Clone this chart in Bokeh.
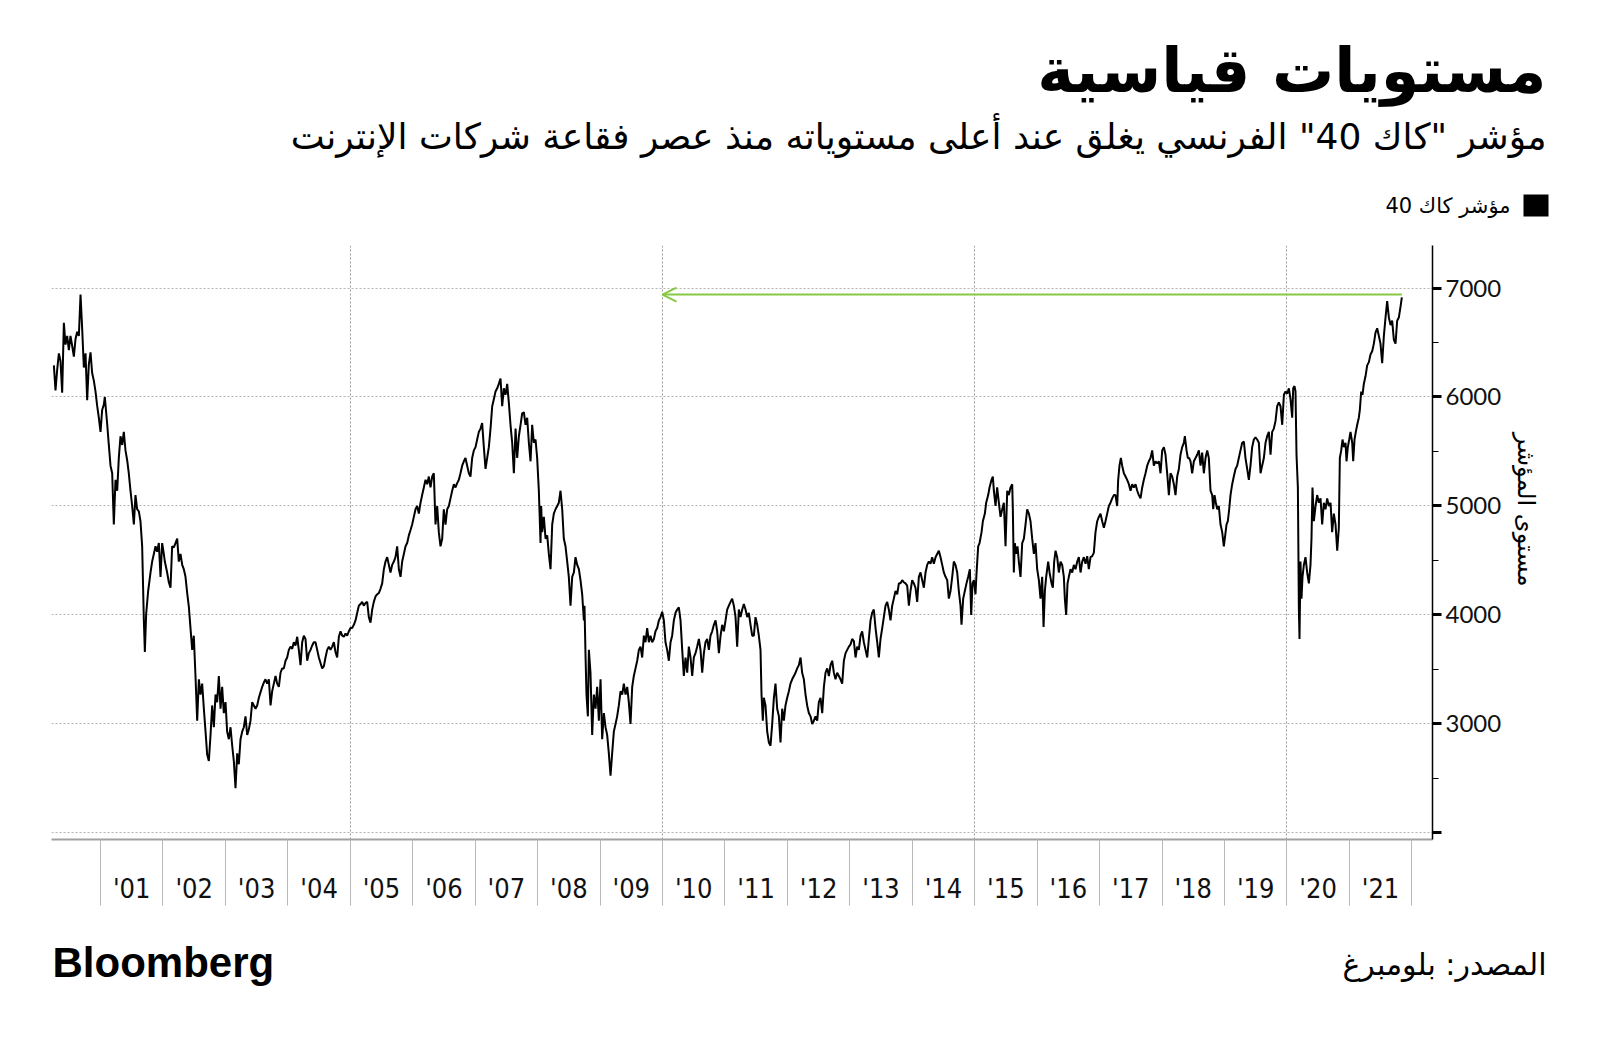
import math
from bokeh.plotting import figure
from bokeh.layouts import column, row
from bokeh.models import Range1d, FixedTicker, Label, Arrow, OpenHead, BoxAnnotation
from bokeh.embed import file_html
from bokeh.resources import INLINE

# ---------------- data ----------------
# decimal years / CAC 40 index level
dates_2000 = [
    2000.253, 2000.279, 2000.306, 2000.333, 2000.359, 2000.386, 2000.413, 2000.439, 2000.466, 2000.493,
    2000.519, 2000.546, 2000.573, 2000.599, 2000.626, 2000.653, 2000.680, 2000.706, 2000.733, 2000.760,
    2000.786, 2000.813, 2000.840, 2000.866, 2000.893, 2000.920, 2000.946, 2000.973, 2001.000, 2001.026,
    2001.053, 2001.069, 2001.107, 2001.133, 2001.160, 2001.187, 2001.213, 2001.240, 2001.267, 2001.293,
    2001.320, 2001.347, 2001.373, 2001.400, 2001.427, 2001.453, 2001.480, 2001.507, 2001.534, 2001.560,
    2001.587, 2001.614, 2001.640, 2001.667, 2001.694, 2001.710, 2001.731, 2001.763, 2001.801, 2001.827,
    2001.854, 2001.881, 2001.907, 2001.934, 2001.961, 2001.987, 2002.014, 2002.030, 2002.067, 2002.094,
    2002.121, 2002.147, 2002.174, 2002.201, 2002.228, 2002.254, 2002.281, 2002.308, 2002.334, 2002.361,
    2002.388, 2002.414, 2002.441, 2002.468, 2002.494, 2002.521, 2002.548, 2002.575, 2002.601,
]
cac_2000 = [
    6290, 6060, 6250, 6400, 6330, 6040, 6680, 6480, 6560, 6430,
    6560, 6470, 6370, 6530, 6600, 6560, 6940, 6630, 6270, 6400,
    5970, 6300, 6410, 6220, 6150, 6050, 5920, 5810, 5680, 5880,
    5930, 6000, 5750, 5560, 5370, 5300, 4830, 5240, 5140, 5440,
    5640, 5560, 5680, 5510, 5420, 5300, 5140, 5000, 4830, 5100,
    4970, 4950, 4860, 4630, 3950, 3660, 4010, 4220, 4390, 4490,
    4560, 4630, 4580, 4660, 4350, 4660, 4560, 4490, 4390, 4300,
    4250, 4630, 4620, 4660, 4700, 4490, 4560, 4460, 4420, 4350,
    4200, 4080, 3880, 3680, 3810, 3440, 3030, 3410, 3270,
]

dates_2002 = [
    2002.628, 2002.655, 2002.682, 2002.708, 2002.735, 2002.762, 2002.788, 2002.815, 2002.842, 2002.868,
    2002.895, 2002.922, 2002.948, 2002.975, 2003.002, 2003.028, 2003.055, 2003.082, 2003.109, 2003.135,
    2003.162, 2003.189, 2003.215, 2003.242, 2003.269, 2003.295, 2003.322, 2003.349, 2003.375, 2003.402,
    2003.429, 2003.456, 2003.482, 2003.509, 2003.536, 2003.562, 2003.589, 2003.616, 2003.642, 2003.669,
    2003.696, 2003.723, 2003.749, 2003.776, 2003.803, 2003.829, 2003.856, 2003.883, 2003.909, 2003.936,
    2003.963, 2003.989, 2004.016, 2004.043, 2004.070, 2004.096, 2004.123, 2004.150, 2004.176, 2004.203,
    2004.230, 2004.256, 2004.283, 2004.310, 2004.337, 2004.363, 2004.390, 2004.416, 2004.443, 2004.470,
    2004.497, 2004.523, 2004.550, 2004.577, 2004.603, 2004.630, 2004.657, 2004.683, 2004.710, 2004.737,
    2004.763, 2004.790, 2004.817, 2004.844, 2004.870, 2004.897, 2004.924, 2004.950, 2004.977, 2005.004,
    2005.030, 2005.057, 2005.084,
]
cac_2002 = [
    3370, 3140, 2930, 2720, 2660, 2900, 3170, 2970, 3270, 3200,
    3440, 3140, 3340, 3100, 3200, 2930, 2860, 2970, 2800, 2660,
    2410, 2730, 2630, 2860, 2930, 2970, 3070, 2900, 2950, 3030,
    3200, 3170, 3140, 3170, 3240, 3290, 3340, 3380, 3410, 3370,
    3410, 3170, 3300, 3370, 3440, 3370, 3340, 3470, 3510, 3510,
    3580, 3610, 3680, 3710, 3690, 3750, 3720, 3800, 3680, 3540,
    3750, 3810, 3780, 3580, 3650, 3680, 3720, 3750, 3750, 3680,
    3610, 3560, 3510, 3530, 3610, 3680, 3710, 3680, 3710, 3750,
    3660, 3610, 3800, 3850, 3810, 3800, 3830, 3810, 3850, 3880,
    3880, 3910, 3950,
]

dates_2005 = [
    2005.111, 2005.137, 2005.164, 2005.190, 2005.217, 2005.244, 2005.271, 2005.297, 2005.324, 2005.351,
    2005.377, 2005.404, 2005.431, 2005.457, 2005.484, 2005.511, 2005.538, 2005.564, 2005.591, 2005.618,
    2005.644, 2005.671, 2005.698, 2005.724, 2005.751, 2005.778, 2005.805, 2005.831, 2005.858, 2005.885,
    2005.911, 2005.938, 2005.965, 2005.991, 2006.018, 2006.045, 2006.071, 2006.098, 2006.125, 2006.151,
    2006.178, 2006.205, 2006.232, 2006.258, 2006.285, 2006.312, 2006.338, 2006.365, 2006.392, 2006.418,
    2006.445, 2006.472, 2006.498, 2006.525, 2006.552, 2006.579, 2006.605, 2006.632, 2006.659, 2006.685,
    2006.712, 2006.739, 2006.765, 2006.792, 2006.819, 2006.845, 2006.872, 2006.899, 2006.925, 2006.952,
    2006.979, 2007.006, 2007.032, 2007.059, 2007.086, 2007.112, 2007.139, 2007.166, 2007.192, 2007.219,
    2007.246, 2007.273, 2007.299, 2007.326, 2007.353, 2007.379, 2007.406, 2007.433, 2007.459, 2007.486,
    2007.513, 2007.539, 2007.566,
]
cac_2005 = [
    4020, 4085, 4100, 4120, 4085, 4110, 4120, 3980, 3930, 4050,
    4120, 4170, 4190, 4200, 4240, 4290, 4420, 4490, 4530, 4460,
    4390, 4460, 4490, 4530, 4630, 4420, 4350, 4490, 4560, 4630,
    4660, 4730, 4780, 4830, 4900, 4970, 5000, 4930, 5030, 5100,
    5170, 5240, 5200, 5270, 5170, 5270, 5300, 4830, 5000, 4760,
    4630, 4700, 4970, 4830, 4970, 5000, 5070, 5140, 5200, 5170,
    5210, 5240, 5300, 5370, 5410, 5440, 5370, 5300, 5270, 5440,
    5510, 5540, 5610, 5680, 5710, 5760, 5540, 5340, 5440, 5540,
    5710, 5915, 5980, 6050, 6080, 6120, 6170, 5915, 6080, 6020,
    6120, 5950, 5745,
]

dates_2007 = [
    2007.593, 2007.620, 2007.647, 2007.673, 2007.700, 2007.727, 2007.753, 2007.780, 2007.807, 2007.833,
    2007.860, 2007.887, 2007.913, 2007.940, 2007.967, 2007.993, 2008.020, 2008.047, 2008.057, 2008.073,
    2008.100, 2008.127, 2008.154, 2008.180, 2008.207, 2008.234, 2008.260, 2008.287, 2008.314, 2008.340,
    2008.367, 2008.394, 2008.420, 2008.447, 2008.474, 2008.500, 2008.527, 2008.554, 2008.581, 2008.607,
    2008.634, 2008.661, 2008.687, 2008.714, 2008.741, 2008.751, 2008.767, 2008.783, 2008.805, 2008.821,
    2008.847, 2008.874, 2008.901, 2008.928, 2008.954, 2008.981, 2009.008, 2009.034, 2009.061, 2009.088,
    2009.114, 2009.141, 2009.168, 2009.194, 2009.221, 2009.248, 2009.274, 2009.301, 2009.328, 2009.355,
    2009.381, 2009.408, 2009.435, 2009.461, 2009.488, 2009.515, 2009.541, 2009.568, 2009.595, 2009.622,
    2009.648, 2009.675, 2009.702, 2009.728, 2009.755, 2009.782, 2009.808, 2009.835, 2009.862, 2009.888,
    2009.915, 2009.942, 2009.969, 2009.995, 2010.022, 2010.048,
]
cac_2007 = [
    5580, 5300, 5710, 5440, 5640, 5745, 5850, 5860, 5745, 5810,
    5580, 5410, 5745, 5580, 5610, 5440, 5140, 4660, 5000, 4760,
    4900, 4700, 4730, 4560, 4420, 4830, 4930, 4970, 5000, 5030,
    5140, 4970, 4700, 4630, 4490, 4350, 4085, 4350, 4390, 4530,
    4460, 4420, 4320, 4190, 3950, 4085, 3640, 3270, 3070, 3680,
    3470, 2900, 3270, 3140, 3340, 3030, 3410, 2860, 3100, 2970,
    2900, 2730, 2525, 2730, 2930, 3000, 3070, 3170, 3300, 3270,
    3370, 3270, 3340, 3200, 3000, 3340, 3440, 3510, 3580, 3680,
    3710, 3610, 3810, 3750, 3880, 3750, 3810, 3750, 3780, 3850,
    3880, 3950, 3980, 4030, 3950, 3750,
]

dates_2010 = [
    2010.075, 2010.102, 2010.129, 2010.155, 2010.182, 2010.209, 2010.235, 2010.262, 2010.289, 2010.316,
    2010.342, 2010.369, 2010.396, 2010.422, 2010.449, 2010.476, 2010.502, 2010.529, 2010.556, 2010.583,
    2010.609, 2010.636, 2010.663, 2010.689, 2010.716, 2010.743, 2010.769, 2010.796, 2010.823, 2010.850,
    2010.876, 2010.903, 2010.930, 2010.956, 2010.983, 2011.010, 2011.036, 2011.063, 2011.090, 2011.116,
    2011.143, 2011.170, 2011.196, 2011.223, 2011.250, 2011.277, 2011.303, 2011.330, 2011.357, 2011.383,
    2011.410, 2011.437, 2011.463, 2011.490, 2011.517, 2011.543, 2011.570, 2011.586, 2011.607, 2011.623,
    2011.650, 2011.677, 2011.704, 2011.730, 2011.757, 2011.784, 2011.810, 2011.837, 2011.864, 2011.890,
    2011.917, 2011.944, 2011.970, 2011.997, 2012.024, 2012.050, 2012.077, 2012.104, 2012.131, 2012.157,
    2012.184, 2012.211, 2012.237, 2012.264, 2012.291, 2012.317, 2012.344, 2012.371, 2012.398, 2012.424,
    2012.451, 2012.478, 2012.504, 2012.531,
]
cac_2010 = [
    3680, 3580, 3750, 3810, 3950, 4020, 4050, 4070, 3950, 3680,
    3440, 3610, 3470, 3710, 3610, 3440, 3610, 3650, 3710, 3780,
    3680, 3470, 3650, 3750, 3780, 3680, 3810, 3850, 3910, 3950,
    3850, 3650, 3810, 3910, 3850, 3950, 4050, 4085, 4120, 4150,
    4085, 3980, 3710, 4050, 3980, 4050, 4100, 4050, 3980, 4020,
    3910, 3810, 3810, 3980, 3910, 3810, 3680, 3270, 3030, 3240,
    3170, 2930, 2830, 2800, 3000, 3240, 3370, 3140, 3070, 2830,
    3140, 3030, 3170, 3240, 3300, 3370, 3410, 3440, 3470, 3510,
    3540, 3610, 3470, 3410, 3270, 3170, 3100, 3070, 3000, 3030,
    3070, 3030, 3200, 3240,
]

dates_2012 = [
    2012.558, 2012.585, 2012.611, 2012.638, 2012.665, 2012.691, 2012.718, 2012.745, 2012.771, 2012.798,
    2012.825, 2012.851, 2012.878, 2012.905, 2012.932, 2012.958, 2012.985, 2013.012, 2013.038, 2013.065,
    2013.092, 2013.118, 2013.145, 2013.172, 2013.198, 2013.225, 2013.252, 2013.279, 2013.305, 2013.332,
    2013.358, 2013.385, 2013.412, 2013.439, 2013.465, 2013.492, 2013.519, 2013.545, 2013.572, 2013.599,
    2013.625, 2013.652, 2013.679, 2013.705, 2013.732, 2013.759, 2013.786, 2013.812, 2013.839, 2013.866,
    2013.892, 2013.919, 2013.946, 2013.972, 2013.999, 2014.026, 2014.052, 2014.079, 2014.106, 2014.133,
    2014.159, 2014.186, 2014.213, 2014.239, 2014.266, 2014.293, 2014.319, 2014.346, 2014.373, 2014.399,
    2014.426, 2014.453, 2014.480, 2014.506, 2014.533, 2014.560, 2014.586, 2014.613, 2014.640, 2014.666,
    2014.693, 2014.720, 2014.746, 2014.773, 2014.789, 2014.816, 2014.842, 2014.869, 2014.896, 2014.923,
    2014.944, 2014.965, 2014.987, 2015.013,
]
cac_2012 = [
    3100, 3340, 3470, 3510, 3440, 3540, 3580, 3470, 3410, 3470,
    3440, 3410, 3370, 3580, 3650, 3680, 3710, 3730, 3780, 3760,
    3610, 3710, 3680, 3810, 3850, 3750, 3680, 3610, 3780, 3950,
    4020, 4050, 3880, 3750, 3610, 3780, 3880, 3980, 4085, 4120,
    4050, 3950, 4085, 4150, 4220, 4190, 4290, 4290, 4320, 4300,
    4290, 4270, 4085, 4220, 4320, 4290, 4250, 4120, 4350, 4390,
    4320, 4250, 4390, 4460, 4490, 4470, 4530, 4470, 4530, 4560,
    4590, 4530, 4460, 4390, 4350, 4320, 4150, 4220, 4350, 4490,
    4460, 4390, 4220, 4085, 3910, 4150, 4220, 4290, 4350, 4420,
    4000, 4290, 4320, 4190,
]

dates_2015 = [
    2015.030, 2015.056, 2015.078, 2015.110, 2015.131, 2015.163, 2015.184, 2015.216, 2015.238, 2015.270,
    2015.291, 2015.307, 2015.334, 2015.360, 2015.387, 2015.414, 2015.441, 2015.467, 2015.494, 2015.521,
    2015.547, 2015.574, 2015.601, 2015.611, 2015.627, 2015.643, 2015.665, 2015.686, 2015.707, 2015.734,
    2015.761, 2015.788, 2015.814, 2015.841, 2015.868, 2015.894, 2015.921, 2015.948, 2015.974, 2016.001,
    2016.028, 2016.054, 2016.081, 2016.103, 2016.124, 2016.145, 2016.177, 2016.199, 2016.231, 2016.252,
    2016.273, 2016.295, 2016.321, 2016.348, 2016.375, 2016.401, 2016.428, 2016.444, 2016.465, 2016.487,
    2016.508, 2016.535, 2016.562, 2016.588, 2016.615, 2016.642, 2016.668, 2016.695, 2016.722, 2016.748,
    2016.775, 2016.802, 2016.828, 2016.855, 2016.882, 2016.908, 2016.935, 2016.962, 2016.989, 2017.015,
    2017.042, 2017.069, 2017.095, 2017.122, 2017.149, 2017.175, 2017.202, 2017.229, 2017.255, 2017.282,
    2017.298, 2017.319, 2017.341, 2017.362, 2017.389, 2017.416, 2017.442, 2017.469, 2017.496,
]
cac_2015 = [
    4390, 4630, 4660, 4760, 4860, 4930, 5030, 5100, 5170, 5240,
    5270, 5140, 5000, 5170, 5030, 4900, 4970, 5030, 4630, 5140,
    5100, 5170, 5200, 4970, 4390, 4660, 4560, 4630, 4490, 4350,
    4660, 4700, 4830, 4970, 4930, 4860, 4700, 4560, 4660, 4420,
    4320, 4150, 4350, 3890, 4220, 4350, 4490, 4390, 4290, 4250,
    4490, 4590, 4530, 4390, 4490, 4460, 4350, 4150, 4000, 4290,
    4350, 4420, 4390, 4460, 4420, 4490, 4530, 4390, 4490, 4530,
    4470, 4540, 4420, 4530, 4540, 4570, 4760, 4860, 4900, 4930,
    4860, 4800, 4860, 4930, 5000, 5030, 5070, 5100, 5100, 5000,
    5240, 5370, 5440, 5370, 5300, 5270, 5240, 5200, 5140,
]

dates_2017 = [
    2017.522, 2017.549, 2017.576, 2017.603, 2017.629, 2017.656, 2017.683, 2017.709, 2017.736, 2017.763,
    2017.789, 2017.816, 2017.843, 2017.869, 2017.896, 2017.923, 2017.950, 2017.976, 2018.003, 2018.030,
    2018.056, 2018.083, 2018.110, 2018.136, 2018.163, 2018.190, 2018.216, 2018.243, 2018.270, 2018.296,
    2018.323, 2018.350, 2018.366, 2018.393, 2018.414, 2018.435, 2018.457, 2018.483, 2018.510, 2018.537,
    2018.563, 2018.590, 2018.617, 2018.643, 2018.670, 2018.697, 2018.724, 2018.750, 2018.777, 2018.804,
    2018.820, 2018.841, 2018.862, 2018.884, 2018.910, 2018.937, 2018.964, 2018.990, 2019.012, 2019.033,
    2019.054, 2019.076, 2019.097, 2019.124, 2019.150, 2019.177, 2019.204, 2019.230, 2019.257, 2019.284,
    2019.311, 2019.337, 2019.364, 2019.391, 2019.417, 2019.444, 2019.471, 2019.497, 2019.524, 2019.551,
    2019.578, 2019.604, 2019.631, 2019.658, 2019.684, 2019.711, 2019.738, 2019.764, 2019.791, 2019.818,
    2019.844, 2019.871, 2019.898,
]
cac_2017 = [
    5200, 5170, 5200, 5140, 5100, 5070, 5170, 5240, 5300, 5370,
    5410, 5440, 5510, 5370, 5410, 5390, 5410, 5300, 5510, 5540,
    5470, 5300, 5100, 5300, 5270, 5200, 5100, 5270, 5340, 5470,
    5540, 5580, 5640, 5510, 5440, 5440, 5410, 5300, 5410, 5440,
    5470, 5510, 5370, 5490, 5300, 5440, 5510, 5440, 5140, 5100,
    4970, 5100, 5030, 4970, 5000, 4830, 4760, 4630, 4730, 4830,
    4860, 4970, 5100, 5200, 5270, 5340, 5370, 5440, 5510, 5580,
    5590, 5440, 5340, 5240, 5370, 5540, 5610, 5630, 5610, 5580,
    5300, 5370, 5440, 5580, 5640, 5680, 5470, 5680, 5710, 5780,
    5915, 5950, 5915,
]

dates_2020 = [
    2019.925, 2019.952, 2019.978, 2020.005, 2020.032, 2020.058, 2020.085, 2020.101, 2020.122, 2020.138,
    2020.154, 2020.176, 2020.192, 2020.202, 2020.218, 2020.234, 2020.250, 2020.272, 2020.298, 2020.325,
    2020.352, 2020.378, 2020.394, 2020.410, 2020.432, 2020.459, 2020.485, 2020.512, 2020.539, 2020.565,
    2020.592, 2020.619, 2020.645, 2020.672, 2020.699, 2020.725, 2020.752, 2020.779, 2020.806, 2020.832,
    2020.848, 2020.870, 2020.891, 2020.912, 2020.939, 2020.955, 2020.976, 2020.998, 2021.019, 2021.046,
    2021.062, 2021.083, 2021.104, 2021.126, 2021.152, 2021.168, 2021.190, 2021.211, 2021.232, 2021.259,
    2021.286, 2021.313, 2021.339, 2021.366, 2021.393, 2021.419, 2021.446, 2021.473, 2021.499, 2021.526,
    2021.553, 2021.580, 2021.606, 2021.633, 2021.660, 2021.686, 2021.713, 2021.740, 2021.766, 2021.793,
    2021.820, 2021.841,
]
cac_2020 = [
    5745, 6020, 6050, 6030, 6080, 5980, 5810, 6080, 6100, 6050,
    5470, 5170, 4050, 3780, 4490, 4150, 4350, 4460, 4530, 4390,
    4290, 4460, 4700, 5170, 4860, 5000, 5100, 5030, 5070, 4830,
    5030, 4970, 5070, 5000, 5030, 4760, 4930, 4830, 4590, 4800,
    5440, 5510, 5610, 5540, 5580, 5410, 5540, 5610, 5680, 5580,
    5410, 5610, 5680, 5745, 5810, 5880, 6050, 6020, 6120, 6190,
    6290, 6320, 6390, 6420, 6490, 6590, 6630, 6560, 6490, 6310,
    6560, 6730, 6880, 6730, 6660, 6700, 6525, 6490, 6700, 6730,
    6830, 6915,
]

year_starts = list(range(2001, 2023))
year_labels = ["'01", "'02", "'03", "'04", "'05", "'06", "'07", "'08", "'09", "'10", "'11",
               "'12", "'13", "'14", "'15", "'16", "'17", "'18", "'19", "'20", "'21"]
level_ticks = [2000, 3000, 4000, 5000, 6000, 7000]
level_minor = [2500, 3500, 4500, 5500, 6500]
grid_years = [2005, 2010, 2015, 2020]
arrow_target_year = 2010

title_text = "مستويات قياسية"
subtitle_text = "مؤشر \"كاك 40\" الفرنسي يغلق عند أعلى مستوياته منذ عصر فقاعة شركات الإنترنت"
legend_text = "مؤشر كاك 40"
axis_title = "مستوى المؤشر"
source_text = "المصدر: بلومبرغ"
brand_text = "Bloomberg"

segments = [
    (dates_2000, cac_2000), (dates_2002, cac_2002), (dates_2005, cac_2005),
    (dates_2007, cac_2007), (dates_2010, cac_2010), (dates_2012, cac_2012),
    (dates_2015, cac_2015), (dates_2017, cac_2017), (dates_2020, cac_2020),
]
dates, cac40 = [], []
for d, v in segments:
    assert len(d) == len(v), (len(d), len(v), d[0])
    dates += d
    cac40 += v

# ---------------- layout geometry (page pixels) ----------------
PAGE_W = 1580
HEADER_H = 245          # frame top of the chart
MAIN_W = 1510
SIDE_W = PAGE_W - MAIN_W
FRAME_L, FRAME_R = 51, 1432
FRAME_H = 594
MAIN_H = FRAME_H + 80
FOOTER_H = 101


def blank(width, height):
    f = figure(width=width, height=height, output_backend="svg", toolbar_location=None,
               x_range=Range1d(0, width), y_range=Range1d(height, 0),
               min_border=0, outline_line_color=None,
               background_fill_color="white", border_fill_color="white")
    f.axis.visible = False
    f.grid.visible = False
    return f


def put(f, text, x, y, size, align="left", font="DejaVu Sans", style="normal", angle=0.0):
    f.add_layout(Label(x=x, y=y, text=text, text_font=font, text_font_size=f"{size}px",
                       text_font_style=style, text_align=align, text_baseline="middle",
                       text_color="black", angle=angle))


# header: title, subtitle, legend
header = blank(PAGE_W, HEADER_H)
put(header, title_text, 1546, 70, 62, align="right", style="bold")
put(header, subtitle_text, 1546, 136, 36, align="right")
put(header, legend_text, 1510, 205, 21, align="right")
header.add_layout(BoxAnnotation(left=1523, right=1548, top=194, bottom=216,
                                fill_color="black", fill_alpha=1.0, line_color=None))

# main chart
p = figure(width=MAIN_W, height=MAIN_H, output_backend="svg", toolbar_location=None,
           x_range=Range1d(2000.215, 2022.332), y_range=Range1d(1940, 7390),
           x_axis_location="below", y_axis_location="right",
           min_border_left=FRAME_L, min_border_right=MAIN_W - FRAME_R,
           min_border_top=0, min_border_bottom=MAIN_H - FRAME_H,
           background_fill_color="white", border_fill_color="white", outline_line_color=None)

p.xgrid.ticker = FixedTicker(ticks=grid_years)
p.xgrid.grid_line_color = "#9a9a9a"
p.xgrid.grid_line_dash = "2 2"
p.ygrid.ticker = FixedTicker(ticks=level_ticks)
p.ygrid.grid_line_color = "#b4b4b4"
p.ygrid.grid_line_dash = "2 2"

mid_years = [y + 0.5 for y in year_starts[:-1]]
xa = p.xaxis[0]
xa.ticker = FixedTicker(ticks=mid_years, minor_ticks=year_starts)
xa.major_label_overrides = {m: lab for m, lab in zip(mid_years, year_labels)}
xa.major_tick_out = 0
xa.major_tick_in = 0
xa.minor_tick_out = 66
xa.minor_tick_in = 0
xa.minor_tick_line_color = "#b8b8b8"
xa.axis_line_color = "#a0a0a0"
xa.axis_line_width = 2
xa.major_label_standoff = -33
xa.major_label_text_font = "DejaVu Sans Condensed"
xa.major_label_text_font_size = "27px"
xa.major_label_text_color = "#111111"

ya = p.yaxis[0]
ya.ticker = FixedTicker(ticks=level_ticks, minor_ticks=level_minor)
ya.major_label_overrides = {2000: ""}
ya.axis_line_color = "black"
ya.axis_line_width = 1.5
ya.major_tick_line_color = "black"
ya.major_tick_line_width = 3
ya.major_tick_out = 9
ya.major_tick_in = 0
ya.minor_tick_line_color = "black"
ya.minor_tick_out = 6
ya.minor_tick_in = 0
ya.major_label_standoff = 4
ya.major_label_text_font = "Lato"
ya.major_label_text_font_size = "24px"
ya.major_label_text_color = "#111111"

p.line(x=dates, y=cac40, line_color="black", line_width=2)

green = "#86c943"
record = max(cac40)
p.add_layout(Arrow(end=OpenHead(size=14, line_color=green, line_width=2),
                   x_start=dates[-1], y_start=record, x_end=arrow_target_year, y_end=record,
                   line_color=green, line_width=2))

# side strip with the rotated axis title (read top to bottom)
side = blank(SIDE_W, MAIN_H)
put(side, axis_title, 1525 - MAIN_W, 632 - HEADER_H, 24, align="right", angle=-math.pi / 2)

# footer
footer = blank(PAGE_W, FOOTER_H)
FOOT_TOP = HEADER_H + MAIN_H
put(footer, brand_text, 52, 962 - FOOT_TOP, 42, align="left", font="Liberation Sans", style="bold")
put(footer, source_text, 1546, 964 - FOOT_TOP, 30, align="right")

layout = column(header, row(p, side, spacing=0), footer, spacing=0)
open("out.html", "w").write(file_html(layout, INLINE))
